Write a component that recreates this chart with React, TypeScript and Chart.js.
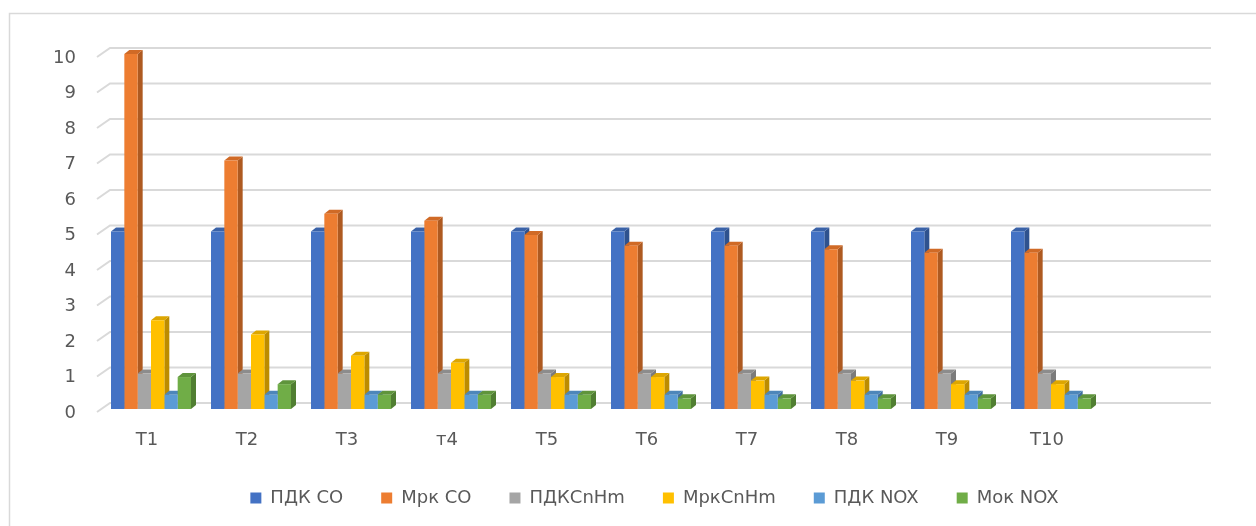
import React, { useEffect, useRef } from "react";
import { Chart, registerables } from "chart.js";

Chart.register(...registerables);

// Measurement points (the last slot is an empty category)
const categories = ["Т1", "Т2", "Т3", "т4", "Т5", "Т6", "Т7", "Т8", "Т9", "Т10", ""];

const seriesNames = ["ПДК CO", "Мрк CO", "ПДКСnHm", "МркСnHm", "ПДК NOX", "Мок NOX"];

const pdkCO = [5, 5, 5, 5, 5, 5, 5, 5, 5, 5, null];
const mrkCO = [10, 7, 5.5, 5.3, 4.9, 4.6, 4.6, 4.5, 4.4, 4.4, null];
const pdkCnHm = [1, 1, 1, 1, 1, 1, 1, 1, 1, 1, null];
const mrkCnHm = [2.5, 2.1, 1.5, 1.3, 0.9, 0.9, 0.8, 0.8, 0.7, 0.7, null];
const pdkNOX = [0.4, 0.4, 0.4, 0.4, 0.4, 0.4, 0.4, 0.4, 0.4, 0.4, null];
const mokNOX = [0.9, 0.7, 0.4, 0.4, 0.4, 0.3, 0.3, 0.3, 0.3, 0.3, null];

const yTicks = [0, 1, 2, 3, 4, 5, 6, 7, 8, 9, 10];

const frontColors = ["#4472C4", "#ED7D31", "#A5A5A5", "#FFC000", "#5B9BD5", "#70AD47"];
const sideColors = ["#2F528F", "#AE5A21", "#7B7B7B", "#BC8C00", "#41719C", "#507E32"];
const topColors = ["#3A62A8", "#D06A26", "#8C8C8C", "#DDA600", "#4D86BA", "#5F943C"];

const FONT = "'DejaVu Sans', sans-serif";
const TEXT = "#595959";
const GRID = "#d9d9d9";

// Depth of each bar prism
const BAR_DX = 5;
const BAR_DY = 4;

// The legend sits centred on the whole frame rather than on the plot
const LEGEND_SHIFT = 54;

const pseudo3d = {
  id: "pseudo3d",
  afterLayout(chart: any) {
    const lg = chart.legend;
    if (lg) {
      lg.left += LEGEND_SHIFT;
      lg.right += LEGEND_SHIFT;
    }
  },
  beforeDraw(chart: any) {
    const ctx = chart.ctx;
    ctx.save();
    ctx.fillStyle = "#ffffff";
    ctx.fillRect(0, 0, chart.width, chart.height);
    ctx.strokeStyle = GRID;
    ctx.lineWidth = 1.5;
    ctx.strokeRect(9.5, 13.5, chart.width + 50, chart.height + 50);
    ctx.restore();
  },
  beforeDatasetsDraw(chart: any) {
    const ctx = chart.ctx;
    const { left, right } = chart.chartArea;
    const yScale = chart.scales.y;

    // back wall grid lines with the floor stub
    ctx.save();
    ctx.strokeStyle = GRID;
    ctx.lineWidth = 2;
    yScale.ticks.forEach((t: any) => {
      const py = yScale.getPixelForValue(t.value);
      ctx.beginPath();
      ctx.moveTo(left - 4, py + 3);
      ctx.lineTo(left + 9, py - 6);
      ctx.lineTo(right + 10, py - 6);
      ctx.stroke();
    });

    // side and top faces, drawn before the library paints the front faces
    chart.data.labels.forEach((_: any, idx: number) => {
      chart.data.datasets.forEach((ds: any, di: number) => {
        const v = ds.data[idx];
        if (v === null || v === undefined) return;
        const el = chart.getDatasetMeta(di).data[idx];
        if (!el) return;
        const { x, y, base, width } = el.getProps(["x", "y", "base", "width"], true);
        const l = x - width / 2;
        const r = x + width / 2;

        ctx.fillStyle = sideColors[di];
        ctx.beginPath();
        ctx.moveTo(r, y);
        ctx.lineTo(r + BAR_DX, y - BAR_DY);
        ctx.lineTo(r + BAR_DX, base - BAR_DY);
        ctx.lineTo(r, base);
        ctx.closePath();
        ctx.fill();

        ctx.fillStyle = topColors[di];
        ctx.beginPath();
        ctx.moveTo(l, y);
        ctx.lineTo(r, y);
        ctx.lineTo(r + BAR_DX, y - BAR_DY);
        ctx.lineTo(l + BAR_DX, y - BAR_DY);
        ctx.closePath();
        ctx.fill();
      });
    });
    ctx.restore();
  },
};

export default function App() {
  const canvasRef = useRef<HTMLCanvasElement | null>(null);

  useEffect(() => {
    const canvas = canvasRef.current;
    if (!canvas) return;
    const series = [pdkCO, mrkCO, pdkCnHm, mrkCnHm, pdkNOX, mokNOX];
    const chart = new Chart(canvas, {
      type: "bar",
      data: {
        labels: categories,
        datasets: series.map((data, i) => ({
          label: seriesNames[i],
          data,
          backgroundColor: frontColors[i],
          borderWidth: 0,
          categoryPercentage: 0.8,
          barPercentage: 1,
        })),
      },
      options: {
        responsive: false,
        animation: false,
        layout: { padding: { top: 54, right: 55, bottom: 9, left: 0 } },
        plugins: {
          legend: {
            position: "bottom",
            labels: {
              boxWidth: 11,
              boxHeight: 11,
              padding: 38,
              color: TEXT,
              font: { family: FONT, size: 18 },
            },
          },
          tooltip: { enabled: false },
        },
        scales: {
          x: {
            grid: { display: false, drawTicks: false },
            border: { display: false },
            ticks: {
              color: TEXT,
              font: { family: FONT, size: 18 },
              padding: 21,
              labelOffset: -4,
              maxRotation: 0,
            },
            afterFit: (s: any) => {
              s.height = 42;
            },
          },
          y: {
            min: 0,
            max: 10,
            afterBuildTicks: (s: any) => {
              s.ticks = yTicks.map((v) => ({ value: v }));
            },
            grid: { display: false, drawTicks: false },
            border: { display: false },
            ticks: {
              color: TEXT,
              font: { family: FONT, size: 18 },
              padding: 25,
              labelOffset: 4,
            },
            afterFit: (s: any) => {
              s.width = 101;
            },
          },
        },
      },
      plugins: [pseudo3d],
    });
    return () => chart.destroy();
  }, []);

  return (
    <div style={{ position: "fixed", left: 0, top: 0, width: 1256, height: 526, background: "#fff" }}>
      <canvas ref={canvasRef} width={1256} height={526} />
    </div>
  );
}
